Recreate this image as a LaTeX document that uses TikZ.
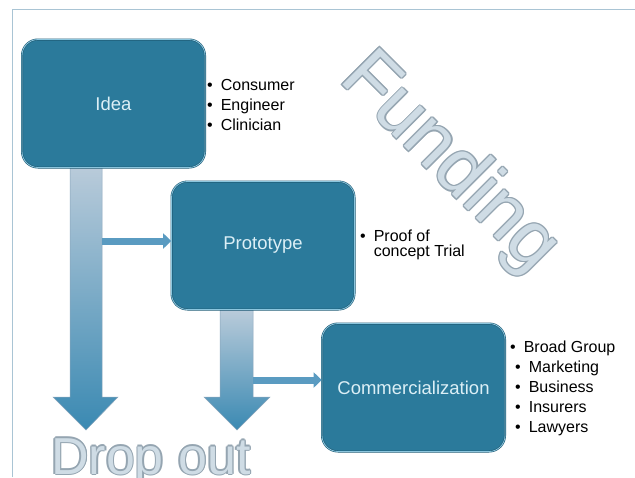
\documentclass[tikz,border=0pt]{standalone}
\usepackage{fontspec}
\setmainfont{Liberation Sans}
\usetikzlibrary{arrows.meta}

\definecolor{boxfill}{HTML}{2B7A9B}
\definecolor{boxedge}{HTML}{1F5C76}
\definecolor{boxglow}{HTML}{8CC6DE}
\definecolor{boxtext}{HTML}{DCEFF6}
\definecolor{shaftlight}{HTML}{B9CBDA}
\definecolor{shaftdark}{HTML}{3A89B2}
\definecolor{shaftedge}{HTML}{8BA6BC}
\definecolor{feedcol}{HTML}{5A9BC1}
\definecolor{ghostfill}{HTML}{CFDCE5}
\definecolor{ghostedge}{HTML}{95A5B1}
\definecolor{framecol}{HTML}{A9C4D4}

\newcommand{\bul}{•\hspace{8pt}}

\tikzset{
  stage/.style={draw=boxedge, line width=0.6pt, double=boxglow, double distance=0.8pt,
    fill=boxfill, rounded corners=16pt, minimum width=183pt, minimum height=128pt,
    text=boxtext, font=\fontsize{18.5}{20}\selectfont},
  notes/.style={anchor=west, align=left, inner sep=0pt, font=\fontsize{16}{20}\selectfont},
  dropshaft/.style={top color=shaftlight, middle color=shaftlight!55!shaftdark,
    bottom color=shaftdark, draw=shaftedge, line width=0.5pt},
  feed/.style={draw=feedcol, line width=7pt, -{Triangle[length=8pt,width=15pt]}},
  ghostline/.style={text=ghostedge, inner sep=0pt},
  ghostbody/.style={text=ghostfill, inner sep=0pt}
}

\begin{document}
\begin{tikzpicture}[x=1pt, y=-1pt]
		\useasboundingbox (0,0) rectangle (635,477);
		\draw[framecol, line width=0.8pt] (12,477) -- (12,9) -- (635,9);
		% outlined background words
		\foreach \dx/\dy in {-1.3/0, 1.3/0, 0/-1.3, 0/1.3, -0.9/-0.9, 0.9/-0.9, -0.9/0.9, 0.9/0.9} {
			\node[ghostline, rotate=-45, anchor=base west, font=\fontsize{76}{76}\selectfont] at (338+\dx,80+\dy) {Funding};
			\node[ghostline, anchor=base west, font=\fontsize{52}{52}\selectfont] at (51+\dx,474+\dy) {Drop out};
		}
		\node[ghostbody, rotate=-45, anchor=base west, font=\fontsize{76}{76}\selectfont] (funding) at (338,80) {Funding};
		\node[ghostbody, anchor=base west, font=\fontsize{52}{52}\selectfont] (dropout) at (51,474) {Drop out};
		% drop out arrows
		\path[dropshaft] (70,167) -- (102,167) -- (102,397) -- (118,397) -- (86,430) -- (53,397) -- (70,397) -- cycle;
		\path[dropshaft] (220,310) -- (253,310) -- (253,397) -- (270,397) -- (237,430) -- (204,397) -- (220,397) -- cycle;
		% stages
		\node[stage] (idea) at (113.5,103.5) {Idea};
		\node[stage] (proto) at (263,245.5) {Prototype};
		\node[stage] (comm) at (413.5,387.5) {Commercialization};
		\coordinate (fork1) at (102,241);
		\coordinate (fork2) at (253,380);
		\draw[feed] (fork1) -- (fork1 -| proto.west);
		\draw[feed] (fork2) -- (fork2 -| comm.west);
		% bullet lists
		\node[notes] (ideanotes) at (207,105) {\bul Consumer\\\bul Engineer\\\bul Clinician};
		\node[notes, font=\fontsize{16}{15}\selectfont] (protonotes) at (360,245) {\bul Proof of\\\hphantom{\bul}concept Trial};
		\node[notes] (commnotes) at (510,388.5) {\bul Broad Group\\\hspace*{5pt}\bul Marketing\\\hspace*{5pt}\bul Business\\\hspace*{5pt}\bul Insurers\\\hspace*{5pt}\bul Lawyers};
\end{tikzpicture}
\end{document}
